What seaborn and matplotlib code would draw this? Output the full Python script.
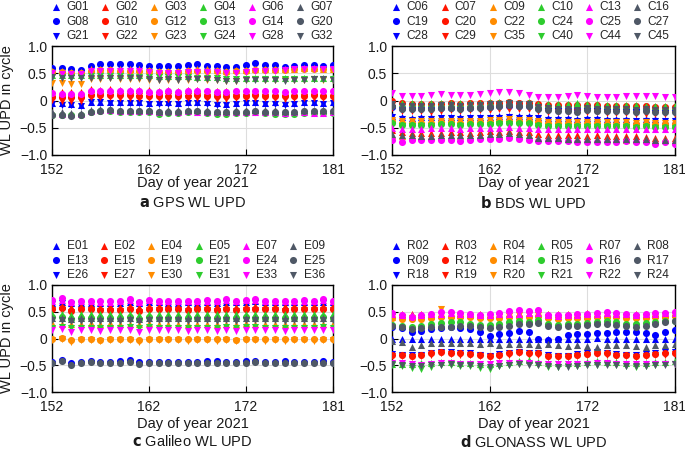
import matplotlib
matplotlib.use("Agg")
import matplotlib.pyplot as plt
import seaborn as sns
import numpy as np

# ---------------- data ----------------
days = list(range(152, 182))

# GPS
G01 = [-0.04,-0.05,-0.06,-0.08,-0.02,-0.02,-0.03,-0.03,-0.02,-0.03,-0.04,-0.03,-0.03,-0.04,-0.03,-0.02,-0.03,-0.05,-0.06,-0.04,-0.03,-0.03,-0.04,-0.03,-0.05,-0.04,-0.03,-0.03,-0.04,-0.03]
G08 = [0.60,0.59,0.57,0.56,0.64,0.67,0.67,0.67,0.67,0.65,0.64,0.63,0.64,0.64,0.66,0.67,0.64,0.64,0.61,0.62,0.65,0.68,0.66,0.65,0.62,0.64,0.65,0.66,0.64,0.65]
G21 = [-0.06,-0.08,-0.09,-0.11,-0.03,-0.03,-0.04,-0.05,-0.05,-0.05,-0.06,-0.07,-0.06,-0.06,-0.05,-0.05,-0.06,-0.08,-0.09,-0.06,-0.05,-0.05,-0.06,-0.07,-0.08,-0.07,-0.05,-0.05,-0.06,-0.05]
G02 = [0.14,0.15,0.16,0.15,0.21,0.20,0.21,0.20,0.19,0.20,0.19,0.18,0.19,0.18,0.19,0.20,0.18,0.17,0.17,0.18,0.18,0.17,0.17,0.16,0.16,0.16,0.17,0.17,0.16,0.16]
G10 = [0.06,0.07,0.07,0.06,0.10,0.10,0.11,0.10,0.10,0.09,0.09,0.09,0.08,0.09,0.09,0.10,0.09,0.08,0.08,0.09,0.09,0.10,0.09,0.09,0.08,0.09,0.09,0.10,0.09,0.09]
G22 = [0.01,0.00,0.00,-0.01,0.06,0.06,0.06,0.05,0.05,0.04,0.04,0.04,0.03,0.04,0.04,0.05,0.04,0.03,0.03,0.04,0.04,0.05,0.04,0.04,0.03,0.04,0.04,0.05,0.04,0.04]
G03 = [0.55,0.54,0.53,0.52,0.57,0.58,0.58,0.57,0.57,0.57,0.56,0.55,0.55,0.55,0.56,0.57,0.57,0.56,0.55,0.56,0.56,0.58,0.57,0.58,0.58,0.58,0.59,0.59,0.58,0.58]
G12 = [0.52,0.52,0.51,0.51,0.55,0.56,0.56,0.55,0.55,0.54,0.54,0.53,0.53,0.53,0.54,0.55,0.55,0.54,0.53,0.54,0.55,0.56,0.56,0.56,0.56,0.57,0.57,0.57,0.57,0.57]
G23 = [0.33,0.32,0.31,0.31,0.39,0.40,0.41,0.40,0.40,0.39,0.38,0.37,0.38,0.37,0.38,0.39,0.38,0.37,0.35,0.36,0.37,0.39,0.38,0.38,0.37,0.38,0.38,0.39,0.38,0.38]
G04 = [0.47,0.46,0.46,0.46,0.47,0.47,0.47,0.47,0.46,0.47,0.46,0.45,0.45,0.45,0.45,0.44,0.44,0.44,0.42,0.42,0.42,0.41,0.41,0.42,0.41,0.41,0.41,0.42,0.42,0.41]
G13 = [-0.26,-0.26,-0.27,-0.26,-0.21,-0.20,-0.20,-0.21,-0.21,-0.21,-0.22,-0.24,-0.23,-0.23,-0.22,-0.22,-0.23,-0.24,-0.24,-0.23,-0.23,-0.22,-0.23,-0.24,-0.25,-0.24,-0.23,-0.23,-0.23,-0.23]
G24 = [0.44,0.44,0.43,0.43,0.45,0.45,0.45,0.45,0.44,0.44,0.43,0.43,0.43,0.43,0.43,0.42,0.42,0.42,0.40,0.40,0.40,0.39,0.39,0.40,0.39,0.39,0.39,0.40,0.40,0.39]
G06 = [-0.23,-0.24,-0.24,-0.24,-0.19,-0.18,-0.18,-0.19,-0.19,-0.19,-0.20,-0.21,-0.20,-0.21,-0.20,-0.21,-0.22,-0.22,-0.21,-0.22,-0.21,-0.21,-0.22,-0.22,-0.23,-0.22,-0.22,-0.23,-0.23,-0.22]
G14 = [0.13,0.12,0.12,0.12,0.17,0.17,0.18,0.17,0.17,0.17,0.16,0.16,0.17,0.16,0.17,0.18,0.17,0.16,0.16,0.17,0.17,0.17,0.17,0.17,0.16,0.17,0.17,0.18,0.17,0.17]
G28 = [0.50,0.49,0.49,0.48,0.54,0.55,0.55,0.55,0.54,0.54,0.52,0.50,0.51,0.50,0.52,0.53,0.53,0.52,0.50,0.51,0.53,0.55,0.55,0.55,0.56,0.57,0.57,0.57,0.58,0.57]
G07 = [-0.22,-0.22,-0.23,-0.23,-0.17,-0.16,-0.16,-0.17,-0.17,-0.17,-0.18,-0.19,-0.18,-0.18,-0.17,-0.17,-0.18,-0.19,-0.19,-0.18,-0.18,-0.17,-0.18,-0.18,-0.19,-0.19,-0.18,-0.18,-0.18,-0.18]
G20 = [-0.26,-0.27,-0.28,-0.27,-0.21,-0.19,-0.18,-0.19,-0.19,-0.19,-0.20,-0.22,-0.21,-0.21,-0.20,-0.20,-0.21,-0.22,-0.22,-0.21,-0.21,-0.20,-0.21,-0.21,-0.22,-0.21,-0.20,-0.20,-0.20,-0.20]
G32 = [0.43,0.42,0.42,0.42,0.42,0.42,0.42,0.42,0.41,0.41,0.40,0.38,0.39,0.38,0.39,0.39,0.39,0.38,0.35,0.36,0.38,0.38,0.38,0.38,0.36,0.38,0.38,0.39,0.39,0.38]

# BDS
C06 = [-0.28,-0.31,-0.32,-0.31,-0.31,-0.30,-0.30,-0.31,-0.30,-0.30,-0.31,-0.29,-0.28,-0.29,-0.29,-0.30,-0.32,-0.33,-0.33,-0.34,-0.33,-0.33,-0.34,-0.34,-0.34,-0.35,-0.34,-0.34,-0.35,-0.35]
C19 = [-0.12,-0.13,-0.13,-0.13,-0.14,-0.13,-0.13,-0.14,-0.13,-0.12,-0.12,-0.11,-0.10,-0.11,-0.11,-0.13,-0.14,-0.14,-0.15,-0.16,-0.14,-0.14,-0.15,-0.15,-0.15,-0.16,-0.16,-0.17,-0.17,-0.17]
C28 = [-0.31,-0.34,-0.35,-0.34,-0.34,-0.33,-0.33,-0.34,-0.33,-0.33,-0.33,-0.32,-0.31,-0.32,-0.32,-0.33,-0.35,-0.36,-0.36,-0.37,-0.36,-0.36,-0.37,-0.37,-0.37,-0.38,-0.37,-0.37,-0.38,-0.38]
C07 = [-0.55,-0.58,-0.59,-0.60,-0.60,-0.59,-0.58,-0.58,-0.59,-0.57,-0.56,-0.57,-0.56,-0.58,-0.57,-0.62,-0.63,-0.63,-0.64,-0.64,-0.65,-0.64,-0.65,-0.65,-0.66,-0.66,-0.67,-0.68,-0.69,-0.69]
C20 = [0.00,-0.05,-0.06,-0.06,-0.07,-0.06,-0.05,-0.06,-0.05,-0.05,-0.04,-0.04,-0.03,-0.04,-0.04,-0.06,-0.08,-0.08,-0.09,-0.09,-0.08,-0.09,-0.10,-0.10,-0.10,-0.11,-0.11,-0.12,-0.12,-0.12]
C29 = [-0.14,-0.20,-0.20,-0.20,-0.21,-0.19,-0.18,-0.19,-0.18,-0.18,-0.17,-0.16,-0.15,-0.16,-0.16,-0.19,-0.21,-0.21,-0.22,-0.22,-0.21,-0.22,-0.23,-0.23,-0.23,-0.24,-0.24,-0.25,-0.25,-0.25]
C09 = [-0.64,-0.65,-0.65,-0.66,-0.66,-0.66,-0.65,-0.65,-0.65,-0.64,-0.63,-0.63,-0.62,-0.64,-0.64,-0.68,-0.69,-0.70,-0.70,-0.70,-0.71,-0.70,-0.71,-0.71,-0.72,-0.72,-0.72,-0.73,-0.73,-0.73]
C22 = [-0.38,-0.41,-0.41,-0.41,-0.41,-0.40,-0.40,-0.41,-0.40,-0.40,-0.39,-0.38,-0.37,-0.38,-0.38,-0.40,-0.41,-0.42,-0.42,-0.43,-0.42,-0.42,-0.43,-0.43,-0.43,-0.43,-0.43,-0.44,-0.44,-0.44]
C35 = [-0.35,-0.38,-0.38,-0.38,-0.38,-0.37,-0.37,-0.38,-0.37,-0.37,-0.36,-0.35,-0.34,-0.35,-0.35,-0.38,-0.39,-0.39,-0.40,-0.40,-0.39,-0.40,-0.40,-0.40,-0.40,-0.41,-0.40,-0.41,-0.41,-0.41]
C10 = [-0.06,-0.05,-0.05,-0.04,-0.05,-0.04,-0.04,-0.04,-0.05,-0.04,-0.03,-0.03,-0.03,-0.04,-0.03,-0.06,-0.07,-0.06,-0.06,-0.04,-0.06,-0.07,-0.08,-0.08,-0.09,-0.09,-0.10,-0.10,-0.10,-0.11]
C24 = [-0.42,-0.45,-0.45,-0.45,-0.45,-0.44,-0.44,-0.45,-0.44,-0.44,-0.43,-0.42,-0.41,-0.42,-0.42,-0.45,-0.46,-0.46,-0.46,-0.47,-0.46,-0.46,-0.47,-0.47,-0.47,-0.48,-0.47,-0.48,-0.48,-0.48]
C40 = [-0.45,-0.47,-0.47,-0.47,-0.47,-0.46,-0.46,-0.47,-0.46,-0.46,-0.45,-0.44,-0.44,-0.45,-0.45,-0.47,-0.48,-0.48,-0.48,-0.49,-0.48,-0.48,-0.49,-0.49,-0.49,-0.50,-0.49,-0.50,-0.50,-0.50]
C13 = [-0.51,-0.52,-0.52,-0.52,-0.51,-0.51,-0.51,-0.52,-0.51,-0.51,-0.50,-0.50,-0.49,-0.50,-0.50,-0.52,-0.53,-0.53,-0.53,-0.53,-0.53,-0.53,-0.53,-0.53,-0.53,-0.53,-0.53,-0.53,-0.53,-0.53]
C25 = [-0.72,-0.76,-0.73,-0.72,-0.73,-0.72,-0.72,-0.75,-0.72,-0.70,-0.70,-0.70,-0.68,-0.71,-0.72,-0.75,-0.75,-0.74,-0.74,-0.77,-0.76,-0.76,-0.77,-0.76,-0.75,-0.77,-0.77,-0.79,-0.77,-0.79]
C44 = [0.13,0.09,0.09,0.09,0.11,0.12,0.11,0.10,0.11,0.12,0.13,0.16,0.15,0.14,0.11,0.06,0.06,0.07,0.08,0.10,0.08,0.07,0.06,0.07,0.08,0.08,0.09,0.08,0.07,0.06]
C16 = [-0.62,-0.64,-0.64,-0.65,-0.65,-0.64,-0.64,-0.64,-0.64,-0.63,-0.62,-0.61,-0.60,-0.62,-0.63,-0.68,-0.69,-0.69,-0.70,-0.70,-0.70,-0.70,-0.70,-0.70,-0.71,-0.71,-0.71,-0.72,-0.72,-0.72]
C27 = [-0.10,-0.15,-0.15,-0.15,-0.16,-0.14,-0.13,-0.15,-0.14,-0.13,-0.12,-0.11,-0.09,-0.11,-0.11,-0.16,-0.18,-0.19,-0.19,-0.21,-0.18,-0.19,-0.20,-0.20,-0.20,-0.21,-0.20,-0.21,-0.21,-0.21]
C45 = [-0.07,-0.10,-0.10,-0.10,-0.11,-0.09,-0.08,-0.10,-0.09,-0.08,-0.07,-0.06,-0.05,-0.07,-0.07,-0.12,-0.14,-0.15,-0.16,-0.17,-0.14,-0.15,-0.16,-0.16,-0.16,-0.17,-0.16,-0.17,-0.17,-0.17]

# Galileo
E01 = [0.67,0.68,0.66,0.67,0.67,0.67,0.66,0.67,0.68,0.67,0.69,0.68,0.67,0.67,0.68,0.67,0.68,0.67,0.69,0.68,0.69,0.70,0.68,0.68,0.68,0.68,0.68,0.68,0.69,0.68]
E13 = [-0.43,-0.41,-0.46,-0.43,-0.42,-0.43,-0.43,-0.42,-0.41,-0.44,-0.43,-0.43,-0.43,-0.44,-0.43,-0.43,-0.42,-0.42,-0.44,-0.43,-0.42,-0.42,-0.43,-0.43,-0.42,-0.43,-0.43,-0.43,-0.42,-0.43]
E26 = [0.65,0.66,0.64,0.65,0.65,0.65,0.64,0.65,0.66,0.64,0.66,0.65,0.65,0.65,0.65,0.65,0.66,0.65,0.66,0.65,0.66,0.67,0.65,0.65,0.65,0.65,0.65,0.65,0.66,0.65]
E02 = [0.60,0.61,0.58,0.60,0.60,0.59,0.60,0.59,0.61,0.58,0.61,0.60,0.60,0.60,0.59,0.60,0.60,0.60,0.60,0.59,0.61,0.60,0.60,0.60,0.60,0.60,0.60,0.60,0.61,0.60]
E15 = [0.56,0.57,0.52,0.55,0.55,0.53,0.54,0.54,0.56,0.52,0.56,0.55,0.55,0.55,0.54,0.55,0.55,0.54,0.55,0.53,0.56,0.55,0.55,0.55,0.54,0.55,0.55,0.55,0.56,0.55]
E27 = [0.53,0.54,0.50,0.53,0.53,0.51,0.52,0.52,0.54,0.50,0.54,0.53,0.53,0.53,0.52,0.53,0.53,0.52,0.53,0.51,0.54,0.53,0.53,0.53,0.52,0.53,0.53,0.53,0.54,0.53]
E04 = [0.29,0.28,0.27,0.28,0.29,0.28,0.29,0.28,0.28,0.27,0.29,0.28,0.28,0.28,0.28,0.28,0.28,0.28,0.28,0.28,0.29,0.28,0.28,0.28,0.27,0.28,0.28,0.28,0.28,0.28]
E19 = [0.00,0.01,-0.03,0.00,0.00,-0.02,0.00,-0.01,0.00,-0.03,0.00,0.00,0.00,0.00,-0.01,0.00,0.00,-0.01,0.00,-0.02,0.00,0.00,-0.01,0.00,-0.01,0.00,0.00,-0.01,0.00,-0.01]
E30 = [-0.02,-0.01,-0.06,-0.03,-0.02,-0.04,-0.03,-0.03,-0.02,-0.06,-0.02,-0.03,-0.03,-0.03,-0.04,-0.03,-0.03,-0.05,-0.02,-0.05,-0.03,-0.03,-0.04,-0.03,-0.04,-0.03,-0.03,-0.04,-0.03,-0.03]
E05 = [0.45,0.46,0.44,0.45,0.46,0.45,0.45,0.45,0.46,0.44,0.46,0.45,0.45,0.45,0.45,0.45,0.45,0.45,0.46,0.45,0.46,0.46,0.45,0.45,0.45,0.45,0.45,0.45,0.46,0.45]
E21 = [0.40,0.41,0.37,0.39,0.39,0.38,0.38,0.38,0.40,0.37,0.40,0.39,0.39,0.39,0.38,0.39,0.39,0.38,0.39,0.38,0.40,0.39,0.39,0.39,0.38,0.39,0.39,0.39,0.40,0.39]
E31 = [0.20,0.21,0.19,0.20,0.20,0.20,0.20,0.20,0.21,0.19,0.21,0.20,0.20,0.20,0.20,0.20,0.20,0.20,0.21,0.20,0.21,0.21,0.20,0.20,0.20,0.20,0.20,0.20,0.21,0.20]
E07 = [0.70,0.72,0.68,0.70,0.70,0.69,0.69,0.70,0.72,0.68,0.72,0.70,0.70,0.70,0.70,0.70,0.71,0.70,0.72,0.70,0.72,0.72,0.70,0.70,0.70,0.70,0.71,0.70,0.72,0.70]
E24 = [0.72,0.75,0.68,0.70,0.71,0.70,0.70,0.71,0.74,0.68,0.72,0.71,0.71,0.71,0.70,0.71,0.72,0.71,0.73,0.70,0.72,0.73,0.71,0.71,0.71,0.71,0.72,0.71,0.73,0.71]
E33 = [0.16,0.17,0.13,0.15,0.15,0.14,0.15,0.15,0.16,0.13,0.16,0.15,0.15,0.15,0.14,0.15,0.15,0.14,0.15,0.14,0.16,0.15,0.15,0.15,0.14,0.15,0.15,0.15,0.16,0.15]
E09 = [0.38,0.39,0.37,0.38,0.38,0.38,0.38,0.38,0.39,0.37,0.39,0.38,0.38,0.38,0.38,0.38,0.38,0.38,0.39,0.38,0.39,0.39,0.38,0.38,0.38,0.38,0.38,0.38,0.39,0.38]
E25 = [-0.45,-0.42,-0.49,-0.46,-0.44,-0.46,-0.46,-0.45,-0.43,-0.47,-0.45,-0.45,-0.45,-0.46,-0.46,-0.45,-0.45,-0.45,-0.46,-0.46,-0.45,-0.44,-0.46,-0.45,-0.46,-0.45,-0.45,-0.46,-0.45,-0.45]
E36 = [0.34,0.35,0.32,0.33,0.33,0.33,0.33,0.33,0.35,0.32,0.35,0.34,0.34,0.34,0.33,0.34,0.34,0.33,0.34,0.33,0.35,0.34,0.34,0.34,0.33,0.34,0.34,0.34,0.35,0.34]

# GLONASS
R02 = [0.00,0.00,-0.01,0.00,-0.01,0.00,0.00,0.00,0.00,0.00,-0.01,0.00,0.00,0.00,0.00,-0.01,0.00,0.00,0.00,0.00,0.00,0.01,0.00,0.00,-0.01,0.00,0.00,0.00,0.00,0.00]
R09 = [0.22,0.20,0.13,0.14,0.18,0.20,0.21,0.20,0.18,0.13,0.05,0.09,0.10,0.14,0.13,0.00,-0.02,0.00,0.06,0.08,0.09,0.10,0.11,0.13,0.13,0.12,0.10,0.07,0.13,0.15]
R18 = [-0.29,-0.30,-0.31,-0.30,-0.27,-0.25,-0.26,-0.27,-0.28,-0.30,-0.32,-0.29,-0.27,-0.25,-0.27,-0.27,-0.31,-0.32,-0.32,-0.29,-0.28,-0.26,-0.27,-0.29,-0.30,-0.31,-0.29,-0.28,-0.26,-0.25]
R03 = [0.45,0.46,0.45,0.46,0.46,0.46,0.47,0.47,0.46,0.45,0.46,0.46,0.46,0.47,0.47,0.46,0.46,0.45,0.45,0.46,0.47,0.46,0.47,0.46,0.46,0.45,0.46,0.47,0.47,0.48]
R12 = [-0.30,-0.31,-0.32,-0.31,-0.28,-0.26,-0.27,-0.28,-0.29,-0.31,-0.33,-0.30,-0.28,-0.26,-0.28,-0.28,-0.32,-0.33,-0.33,-0.30,-0.29,-0.27,-0.28,-0.30,-0.31,-0.32,-0.30,-0.29,-0.28,-0.27]
R19 = [-0.32,-0.33,-0.34,-0.33,-0.30,-0.28,-0.29,-0.30,-0.31,-0.33,-0.35,-0.32,-0.30,-0.28,-0.30,-0.30,-0.34,-0.35,-0.35,-0.32,-0.31,-0.29,-0.30,-0.32,-0.33,-0.34,-0.32,-0.31,-0.30,-0.29]
R04 = [0.40,0.42,0.41,0.42,0.42,0.43,0.44,0.44,0.43,0.42,0.42,0.43,0.44,0.44,0.45,0.45,0.42,0.41,0.42,0.42,0.42,0.43,0.44,0.44,0.43,0.42,0.43,0.43,0.44,0.45]
R14 = [0.38,0.37,0.36,0.37,0.38,0.40,0.41,0.41,0.40,0.39,0.38,0.39,0.40,0.41,0.41,0.42,0.38,0.37,0.38,0.38,0.39,0.40,0.41,0.40,0.39,0.38,0.39,0.40,0.41,0.42]
R20 = [0.40,0.40,0.38,0.39,0.40,0.55,0.43,0.42,0.41,0.40,0.40,0.41,0.42,0.43,0.43,0.44,0.40,0.39,0.40,0.40,0.41,0.42,0.43,0.42,0.41,0.40,0.41,0.42,0.43,0.44]
R05 = [-0.47,-0.48,-0.47,-0.46,-0.46,-0.43,-0.44,-0.45,-0.46,-0.48,-0.47,-0.45,-0.44,-0.42,-0.41,-0.44,-0.45,-0.46,-0.45,-0.45,-0.43,-0.42,-0.43,-0.44,-0.45,-0.46,-0.45,-0.44,-0.43,-0.42]
R15 = [0.25,0.24,0.22,0.23,0.27,0.29,0.31,0.30,0.28,0.26,0.25,0.27,0.30,0.33,0.31,0.34,0.27,0.25,0.27,0.28,0.29,0.31,0.32,0.30,0.28,0.27,0.29,0.31,0.32,0.33]
R21 = [-0.50,-0.52,-0.56,-0.57,-0.53,-0.49,-0.50,-0.51,-0.52,-0.56,-0.57,-0.52,-0.49,-0.47,-0.48,-0.50,-0.53,-0.53,-0.52,-0.51,-0.50,-0.49,-0.48,-0.50,-0.51,-0.53,-0.52,-0.50,-0.48,-0.47]
R07 = [0.45,0.44,0.43,0.44,0.45,0.46,0.47,0.46,0.45,0.44,0.44,0.45,0.46,0.46,0.47,0.48,0.43,0.42,0.43,0.44,0.45,0.46,0.47,0.46,0.45,0.44,0.45,0.46,0.47,0.47]
R16 = [0.47,0.44,0.41,0.43,0.46,0.50,0.50,0.48,0.46,0.44,0.46,0.48,0.51,0.54,0.52,0.54,0.44,0.43,0.44,0.45,0.46,0.48,0.49,0.47,0.45,0.44,0.45,0.47,0.48,0.49]
R22 = [-0.45,-0.46,-0.48,-0.49,-0.48,-0.46,-0.46,-0.47,-0.47,-0.48,-0.48,-0.46,-0.45,-0.46,-0.46,-0.47,-0.47,-0.48,-0.48,-0.48,-0.47,-0.46,-0.46,-0.47,-0.47,-0.48,-0.48,-0.47,-0.47,-0.47]
R08 = [-0.05,-0.07,-0.16,-0.12,-0.09,-0.08,-0.08,-0.09,-0.09,-0.10,-0.09,-0.12,-0.11,-0.11,-0.11,-0.12,-0.10,-0.13,-0.14,-0.13,-0.14,-0.15,-0.13,-0.12,-0.13,-0.14,-0.15,-0.13,-0.12,-0.10]
R17 = [0.23,0.21,0.18,0.19,0.22,0.22,0.21,0.23,0.23,0.21,0.20,0.21,0.24,0.28,0.27,0.29,0.24,0.21,0.23,0.24,0.25,0.28,0.27,0.25,0.24,0.22,0.24,0.27,0.30,0.32]
R24 = [-0.47,-0.49,-0.51,-0.51,-0.50,-0.49,-0.48,-0.49,-0.50,-0.52,-0.54,-0.51,-0.49,-0.48,-0.49,-0.50,-0.52,-0.53,-0.53,-0.51,-0.50,-0.49,-0.49,-0.50,-0.51,-0.52,-0.51,-0.50,-0.49,-0.48]

gps_names = ["G01","G08","G21","G02","G10","G22","G03","G12","G23","G04","G13","G24","G06","G14","G28","G07","G20","G32"]
gps_vals = [G01,G08,G21,G02,G10,G22,G03,G12,G23,G04,G13,G24,G06,G14,G28,G07,G20,G32]
bds_names = ["C06","C19","C28","C07","C20","C29","C09","C22","C35","C10","C24","C40","C13","C25","C44","C16","C27","C45"]
bds_vals = [C06,C19,C28,C07,C20,C29,C09,C22,C35,C10,C24,C40,C13,C25,C44,C16,C27,C45]
gal_names = ["E01","E13","E26","E02","E15","E27","E04","E19","E30","E05","E21","E31","E07","E24","E33","E09","E25","E36"]
gal_vals = [E01,E13,E26,E02,E15,E27,E04,E19,E30,E05,E21,E31,E07,E24,E33,E09,E25,E36]
glo_names = ["R02","R09","R18","R03","R12","R19","R04","R14","R20","R05","R15","R21","R07","R16","R22","R08","R17","R24"]
glo_vals = [R02,R09,R18,R03,R12,R19,R04,R14,R20,R05,R15,R21,R07,R16,R22,R08,R17,R24]

colors = ["#0000ff", "#ff1500", "#ff8c00", "#2ecc2e", "#ff00ff", "#4f5866"]
markers = ["^", "o", "v"]

y_ticks = [-1.0, -0.5, 0, 0.5, 1.0]
y_ticklabels = ["\u22121.0", "\u22120.5", "0", "0.5", "1.0"]
x_ticks = [152, 162, 172, 181]

# ---------------- style ----------------
sns.set_theme(style="ticks")
plt.rcParams["font.family"] = ["Liberation Sans", "DejaVu Sans"]
plt.rcParams["axes.linewidth"] = 1.0

fig = plt.figure(figsize=(6.85, 4.51), dpi=100)
W, H = 685.0, 451.0

def make_ax(l, t, r, b):
    return fig.add_axes([l / W, 1 - b / H, (r - l) / W, (b - t) / H])

# (left, top, right, bottom) in pixels, xlabel y, caption y
panels = [
    ((52, 46, 333, 155), 183, 203, gps_names, gps_vals, "a", "GPS WL UPD", True),
    ((392, 46, 675, 155), 183, 203, bds_names, bds_vals, "b", "BDS WL UPD", False),
    ((52, 285, 333, 392), 424, 442, gal_names, gal_vals, "c", "Galileo WL UPD", True),
    ((392, 285, 675, 392), 424, 442, glo_names, glo_vals, "d", "GLONASS WL UPD", False),
]

for box, xl_y, cap_y, names, vals, letter, title, left in panels:
    l, t, r, b = box
    ax = make_ax(l, t, r, b)
    for i, (nm, v) in enumerate(zip(names, vals)):
        if len(v) != len(days):
            raise ValueError(f"{nm} has {len(v)} values")
        sns.scatterplot(x=days, y=v, color=colors[i // 3], marker=markers[i % 3],
                        s=26, linewidth=0, ax=ax, label=nm, zorder=3)
    ax.set_xlim(152, 181)
    ax.set_ylim(-1, 1)
    ax.set_xticks(x_ticks)
    ax.set_yticks(y_ticks)
    ax.set_yticklabels(y_ticklabels)
    ax.tick_params(direction="in", length=4, width=0.8, labelsize=10, pad=5.5,
                   colors="black", labelcolor="#1a1a1a")
    ax.tick_params(axis="y", pad=3.5)
    ax.grid(True, color="#dddddd", linewidth=0.8, zorder=0)
    ax.set_axisbelow(True)
    for sp in ax.spines.values():
        sp.set_color("black")
        sp.set_linewidth(1.0)
    ax.set_xlabel("Day of year 2021", fontsize=10.5, color="#1a1a1a")
    ax.xaxis.label.set_va("center")
    ax.xaxis.set_label_coords(0.5, (b - xl_y) / (b - t))
    if left:
        ax.set_ylabel("WL UPD in cycle", fontsize=10.5, color="#1a1a1a")
        ax.yaxis.label.set_va("center")
        ax.yaxis.set_label_coords((7 - l) / (r - l), 0.5)
    else:
        ax.set_ylabel("")
    ax.legend(ncol=6, loc="lower left", bbox_to_anchor=(-0.019, 1.0), frameon=False,
              fontsize=8.6, handlelength=1.0, handletextpad=0.35, columnspacing=0.85,
              labelspacing=0.22, borderpad=0, borderaxespad=0.32, markerscale=1.0)
    fig.text((l + r) / 2 / W, 1 - cap_y / H, r"$\bf{" + letter + "}$ " + title,
             ha="center", va="center", fontsize=10.5, color="#1a1a1a")

fig.savefig("out.png", dpi=100)
